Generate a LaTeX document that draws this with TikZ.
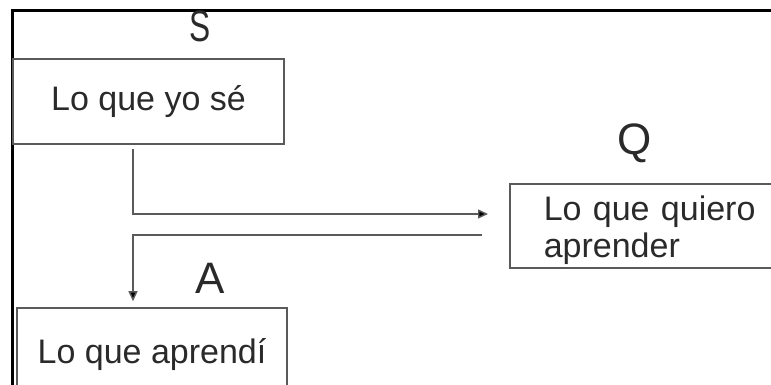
\documentclass[tikz,border=0pt]{standalone}
\usepackage{fontspec}
\setmainfont{Liberation Sans}
\usetikzlibrary{arrows.meta}
\definecolor{boxgray}{HTML}{5A5A5A}
\definecolor{txt}{HTML}{2A2A2A}
\begin{document}
\begin{tikzpicture}[x=1pt,y=-1pt,
  box/.style={draw=boxgray, line width=1.6pt, fill=white, text=txt,
    font=\fontsize{34}{37}\selectfont, inner sep=0pt},
  lbl/.style={text=txt, font=\fontsize{44}{48}\selectfont, anchor=base, inner sep=0pt},
  conn/.style={draw=boxgray, line width=1.4pt},
  tip/.style={-{Triangle[length=10pt,width=9pt,fill=black]}}]
\useasboundingbox (0,0) rectangle (771,385);
% outer frame
\draw[line width=3pt] (12,385) -- (12,10.5) -- (780,10.5);
% boxes
\node[box, minimum width=271pt, minimum height=85pt] (s) at (148.5,101.5) {Lo que yo sé};
\node[box, text width=215pt, align=left, inner xsep=34pt, inner ysep=0pt, minimum height=84pt,
  anchor=west] (q) at (509,226) {\rule{0pt}{34pt}Lo que quiero\\aprender};
\node[box, minimum width=270pt, minimum height=94pt] (a) at (152,355) {Lo que aprendí};
% labels
\node[lbl] (ls) at (200,42) {\scalebox{0.72}[1]{S}};
\node[lbl] (lq) at (635,155) {Q};
\node[lbl] (la) at (210,293) {A};
% connectors
\coordinate (c1) at (133,214);
\coordinate (c2) at (133,235);
\draw[conn, tip, shorten <=4pt, shorten >=21pt] (s.south -| c1) -- (c1) -- (c1 -| q.west);
\draw[conn, tip, shorten <=27pt, shorten >=6pt] (c2 -| q.west) -- (c2) -- (a.north -| c2);
\end{tikzpicture}
\end{document}
